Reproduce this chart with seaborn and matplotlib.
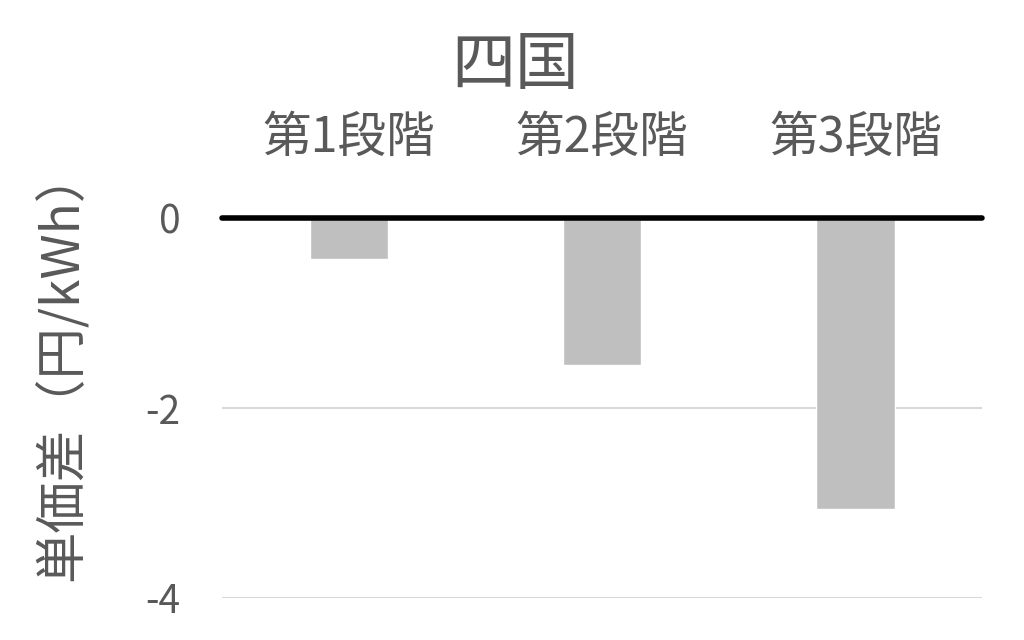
import pandas as pd
import matplotlib
matplotlib.use('Agg')
import matplotlib.pyplot as plt
import seaborn as sns

# データ
stages = ['第1段階', '第2段階', '第3段階']
price_diff = [-0.43, -1.55, -3.06]

df = pd.DataFrame({'段階': stages, '単価差': price_diff})

sns.set_style('white')
plt.rcParams['font.family'] = ['Noto Sans CJK JP', 'DejaVu Sans']

gray_text = '#595959'

fig = plt.figure(figsize=(10.24, 6.4), dpi=100)
ax = fig.add_axes([0.217, 0.066, 0.742, 0.593])

sns.barplot(data=df, x='段階', y='単価差', color='#bfbfbf', width=0.31,
            saturation=1, ax=ax)

ax.set_ylim(-4, 0)
ax.set_yticks([-4, -2, 0])
ax.set_yticklabels(['-4', '-2', '0'])
ax.yaxis.grid(True, color='#d9d9d9', linewidth=1.5)
ax.set_axisbelow(True)

# 0 の軸線（太線）
ax.axhline(0, color='black', linewidth=4, zorder=5, clip_on=False)

ax.xaxis.tick_top()
ax.tick_params(axis='x', length=0, pad=40, labelsize=35, labelcolor=gray_text)
ax.tick_params(axis='y', length=0, pad=30, labelsize=28, labelcolor=gray_text)

for s in ax.spines.values():
    s.set_visible(False)

ax.set_xlabel('')
ax.set_ylabel('単価差（円/kWh）', fontsize=37, color=gray_text)
ax.yaxis.set_label_coords(-0.175, 0.615)

fig.text(0.503, 0.897, '四国', ha='center', va='center', fontsize=46, color=gray_text)

fig.savefig('out.png', dpi=100, facecolor='white')
